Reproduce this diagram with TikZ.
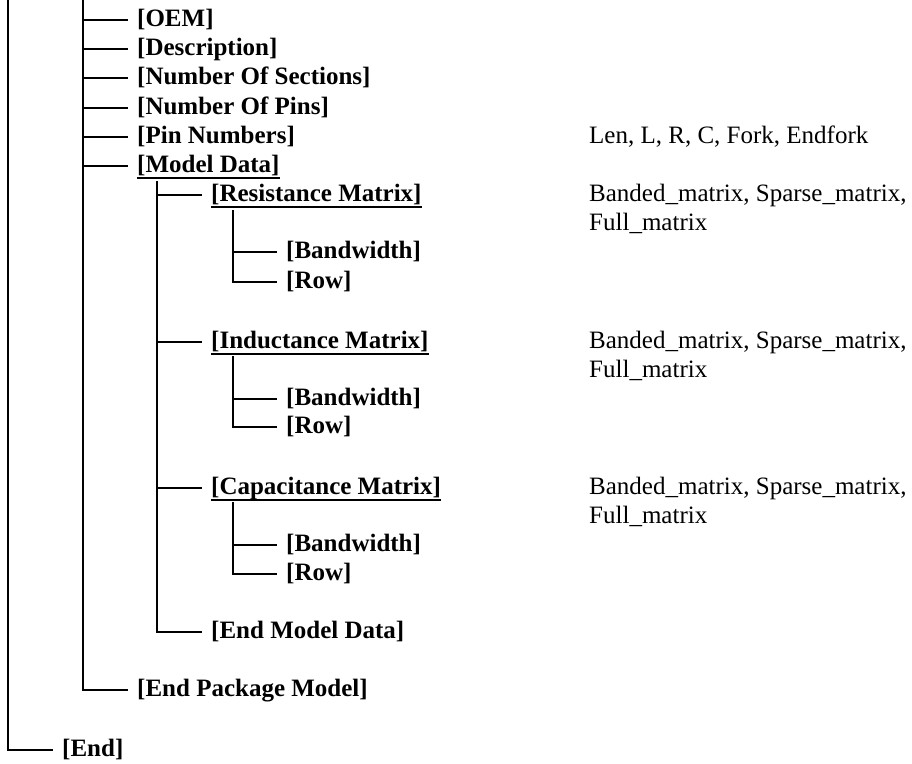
\documentclass[tikz,border=0pt]{standalone}
\usepackage{fontspec}
\setmainfont{Liberation Serif}
\usetikzlibrary{positioning}

\begin{document}
\begin{tikzpicture}[
  x=1pt,y=-1pt,
  tag/.style={anchor=west,inner xsep=0pt,inner ysep=0pt,
    font=\fontsize{25}{29}\selectfont\bfseries,
    text height=17pt,text depth=4pt},
  note/.style={anchor=base west,inner sep=0pt,align=left,
    font=\fontsize{25}{29}\selectfont},
  branch/.style={draw=black,line width=2pt,shorten >=9pt},
  rule/.style={draw=black,line width=2.4pt}
]
\useasboundingbox (0,0) rectangle (912,763);

% first level
\node[tag] (oem) at (137,20) {[OEM]};
\node[tag] (desc) at (137,49) {[Description]};
\node[tag] (nsec) at (137,78) {[Number Of Sections]};
\node[tag] (npin) at (137,108) {[Number Of Pins]};
\node[tag] (pinno) at (137,137) {[Pin Numbers]};
\node[tag] (mdata) at (137,166) {[Model Data]};
\node[tag] (pend) at (137,690) {[End Package Model]};
\node[tag] (fend) at (62,750) {[End]};

% model data
\node[tag] (rmat) at (211,195) {[Resistance Matrix]};
\node[tag] (rbw) at (286,252) {[Bandwidth]};
\node[tag] (rrow) at (286,282) {[Row]};

\node[tag] (lmat) at (211,342) {[Inductance Matrix]};
\node[tag] (lbw) at (286,399) {[Bandwidth]};
\node[tag] (lrow) at (286,427) {[Row]};

\node[tag] (cmat) at (211,488) {[Capacitance Matrix]};
\node[tag] (cbw) at (286,545) {[Bandwidth]};
\node[tag] (crow) at (286,574) {[Row]};

\node[tag] (mend) at (211,632) {[End Model Data]};

% notes (base = last line)
\node[note] (pinnote) at (589,143.5) {Len, L, R, C, Fork, Endfork};
\node[note] (rnote) at (589,230.5) {Banded\_matrix, Sparse\_matrix,\\Full\_matrix};
\node[note] (lnote) at (589,377.5) {Banded\_matrix, Sparse\_matrix,\\Full\_matrix};
\node[note] (cnote) at (589,523.5) {Banded\_matrix, Sparse\_matrix,\\Full\_matrix};

\foreach \n in {mdata,rmat,lmat,cmat}
  \draw[rule] ([yshift=-1pt]\n.south west) -- ([yshift=-1pt]\n.south east);

% trunks
\coordinate (top1) at (8,0);
\coordinate (top2) at (83,0);
\coordinate (md3) at (157,181);
\coordinate (r4) at (233,210);
\coordinate (l4) at (233,356);
\coordinate (c4) at (233,502);

\draw[branch] (top1) |- (fend.west);
\foreach \n in {oem,desc,nsec,npin,pinno,mdata,pend}
  \draw[branch] (top2) |- (\n.west);
\foreach \n in {rmat,lmat,cmat,mend}
  \draw[branch] (md3) |- (\n.west);
\foreach \n in {rbw,rrow}
  \draw[branch] (r4) |- (\n.west);
\foreach \n in {lbw,lrow}
  \draw[branch] (l4) |- (\n.west);
\foreach \n in {cbw,crow}
  \draw[branch] (c4) |- (\n.west);
\end{tikzpicture}
\end{document}
